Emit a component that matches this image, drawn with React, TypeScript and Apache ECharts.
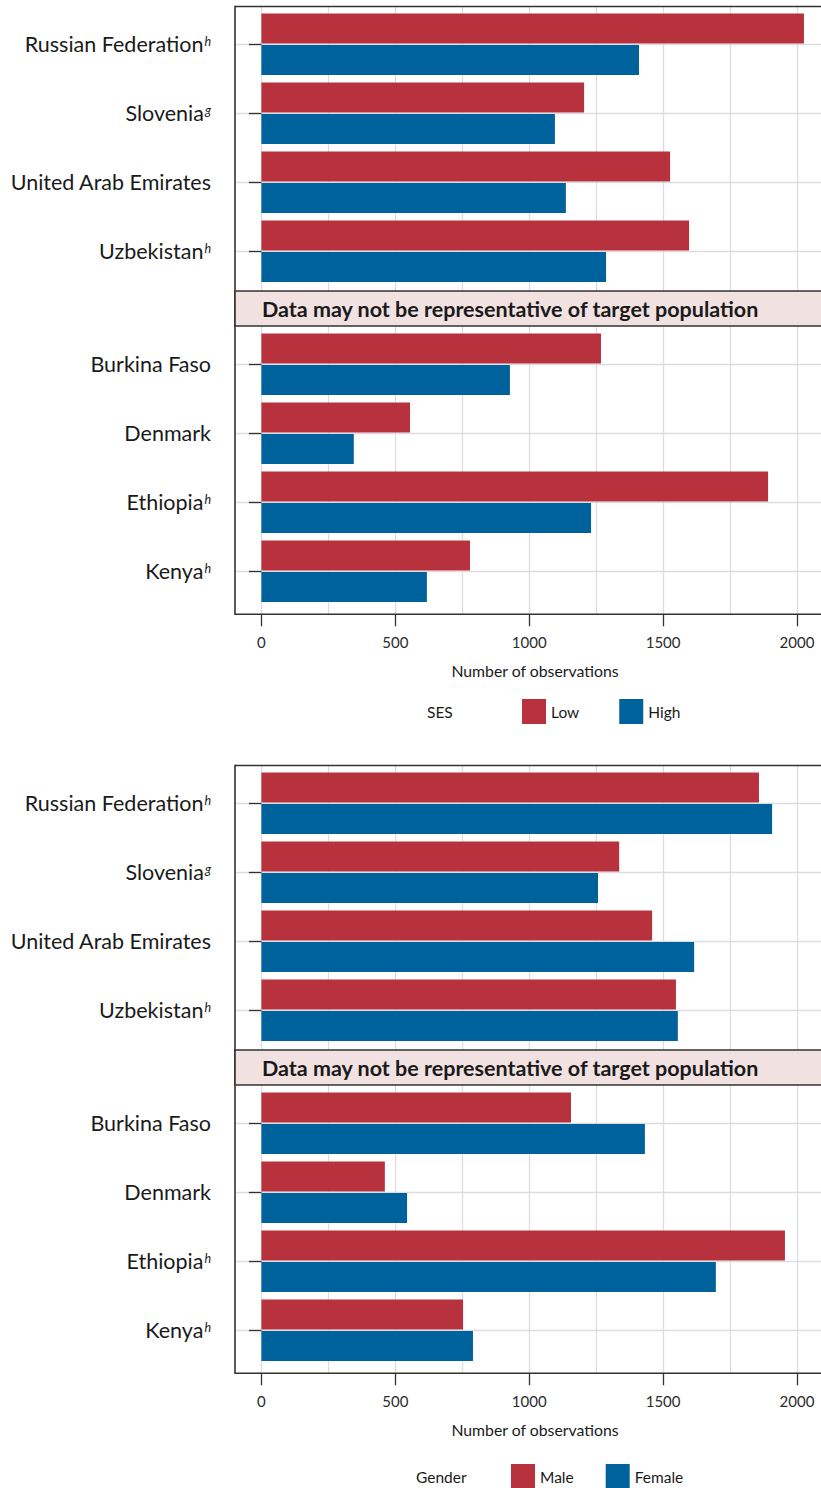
import React, { useEffect, useRef } from 'react';
import * as echarts from 'echarts';

// ---------- data ----------
const upperCountries = ['Russian Federation', 'Slovenia', 'United Arab Emirates', 'Uzbekistan'];
const upperNotes = ['h', 'g', '', 'h'];
const lowerCountries = ['Burkina Faso', 'Denmark', 'Ethiopia', 'Kenya'];
const lowerNotes = ['', '', 'h', 'h'];

const sesLowUpper = [2026, 1205, 1526, 1597];
const sesHighUpper = [1410, 1096, 1137, 1287];
const sesLowLower = [1268, 555, 1892, 779];
const sesHighLower = [928, 345, 1231, 618];

const maleUpper = [1858, 1336, 1459, 1548];
const femaleUpper = [1907, 1257, 1616, 1555];
const maleLower = [1156, 461, 1955, 753];
const femaleLower = [1432, 544, 1697, 790];

const sesNames = ['Low', 'High'];
const genderNames = ['Male', 'Female'];
const stripText = 'Data may not be representative of target population';
const xTitle = 'Number of observations';

// ---------- layout / style ----------
const W = 880;
const H = 1488;
const PLOT_LEFT = 235;
const ZERO_X = 261.4;
const PX_PER_UNIT = 0.2678;
const X_MAX = (W - ZERO_X) / PX_PER_UNIT;
const X_MIN_B = -(ZERO_X - PLOT_LEFT) / PX_PER_UNIT;
const BAND = 69;
const RED = '#B8323D';
const BLUE = '#00629C';
const GRID = '#DCDCE2';
const FRAME = '#333333';
const FONT = 'Lato';

function labelFormatter(countries: string[], notes: string[]) {
  return (value: string) => {
    const i = countries.indexOf(value);
    const note = i >= 0 ? notes[i] : '';
    return note ? `{n|${value}}{s|${note}}` : `{n|${value}}`;
  };
}

function buildOption() {
  const panels = [
    {
      offset: 0,
      names: sesNames,
      upper: [sesLowUpper, sesHighUpper],
      lower: [sesLowLower, sesHighLower],
      legendTitle: 'SES',
      legendTitleX: 427,
      legendLeft: 522,
      legendTop: 699,
      legendGap: 40,
    },
    {
      offset: 759,
      names: genderNames,
      upper: [maleUpper, femaleUpper],
      lower: [maleLower, femaleLower],
      legendTitle: 'Gender',
      legendTitleX: 416,
      legendLeft: 511,
      legendTop: 1464,
      legendGap: 32,
    },
  ];

  const grid: any[] = [];
  const xAxis: any[] = [];
  const yAxis: any[] = [];
  const series: any[] = [];
  const legend: any[] = [];
  const graphic: any[] = [];

  panels.forEach((p) => {
    const o = p.offset;
    const subs = [
      { vTop: 6.5 + o, vH: 284.5, bTop: 44.3 + o, countries: upperCountries, notes: upperNotes, data: p.upper, lowerSub: false },
      { vTop: 326 + o, vH: 288.3, bTop: 364.3 + o, countries: lowerCountries, notes: lowerNotes, data: p.lower, lowerSub: true },
    ];
    subs.forEach((s) => {
      // grid V: vertical gridlines and x axis
      const vIdx = grid.length;
      grid.push({ left: ZERO_X, right: 0, top: s.vTop, height: s.vH, show: false, outerBoundsMode: 'none' });
      xAxis.push({
        type: 'value',
        gridIndex: vIdx,
        min: 0,
        max: X_MAX,
        interval: 500,
        axisLine: { show: false },
        axisTick: { show: s.lowerSub, length: 12, lineStyle: { color: FRAME, width: 1.3 } },
        axisLabel: {
          show: s.lowerSub,
          fontSize: 15,
          fontFamily: FONT,
          color: '#2b2b2b',
          margin: 20,
          formatter: (v: number) => (v % 500 === 0 && v <= 2000 ? String(v) : ''),
        },
        splitLine: { show: true, lineStyle: { color: GRID, width: 1.3 } },
        minorTick: { show: false, splitNumber: 2 },
        minorSplitLine: { show: true, lineStyle: { color: GRID, width: 1.3 } },
      });
      yAxis.push({ type: 'value', gridIndex: vIdx, show: false, min: 0, max: 1 });

      // grid B: bars, category axis, horizontal gridlines
      const bIdx = grid.length;
      grid.push({ left: PLOT_LEFT, right: 0, top: s.bTop, height: BAND * 3, show: false, outerBoundsMode: 'none' });
      xAxis.push({ type: 'value', gridIndex: bIdx, min: X_MIN_B, max: X_MAX, show: false });
      yAxis.push({
        type: 'category',
        gridIndex: bIdx,
        data: s.countries,
        inverse: true,
        boundaryGap: false,
        axisLine: { show: false },
        axisTick: { show: true, length: 12.5, lineStyle: { color: FRAME, width: 1.3 } },
        axisLabel: {
          interval: 0,
          margin: 24,
          formatter: labelFormatter(s.countries, s.notes),
          rich: {
            n: { fontSize: 21.5, fontFamily: FONT, color: '#1a1a1a', lineHeight: 24 },
            s: { fontSize: 12.5, fontFamily: FONT, fontStyle: 'italic', color: '#1a1a1a', lineHeight: 12, verticalAlign: 'top', padding: [3, 0, 0, 1] },
          },
        },
        splitLine: { show: true, lineStyle: { color: GRID, width: 1.3 } },
      });
      [0, 1].forEach((k) => {
        series.push({
          type: 'bar',
          name: p.names[k],
          xAxisIndex: bIdx,
          yAxisIndex: bIdx,
          data: s.data[k],
          barWidth: 30,
          barGap: '5%',
          clip: false,
          itemStyle: { color: k === 0 ? RED : BLUE },
          silent: true,
        });
      });
    });

    // frame
    const frameStyle = { stroke: FRAME, lineWidth: 1.6 };
    graphic.push(
      { type: 'line', z: 50, shape: { x1: PLOT_LEFT, y1: 5.7 + o, x2: PLOT_LEFT, y2: 615 + o }, style: frameStyle },
      { type: 'line', z: 50, shape: { x1: PLOT_LEFT, y1: 6.5 + o, x2: W, y2: 6.5 + o }, style: frameStyle },
      { type: 'line', z: 50, shape: { x1: PLOT_LEFT, y1: 614.3 + o, x2: W, y2: 614.3 + o }, style: frameStyle },
      { type: 'rect', z: 50, shape: { x: PLOT_LEFT, y: 291 + o, width: W, height: 35 }, style: { fill: '#F1E1E1', stroke: FRAME, lineWidth: 1.6 } },
      {
        type: 'text', z: 51, x: 262, y: 308.5 + o,
        style: { text: stripText, font: `bold 21.5px ${FONT}`, fill: '#1a1a1a', verticalAlign: 'middle', align: 'left' },
      },
      {
        type: 'text', z: 51, x: 535, y: 670 + o,
        style: { text: xTitle, font: `15.8px ${FONT}`, fill: '#1a1a1a', verticalAlign: 'middle', align: 'center' },
      },
      {
        type: 'text', z: 51, x: p.legendTitleX, y: p.legendTop + 12.5,
        style: { text: p.legendTitle, font: `15.5px ${FONT}`, fill: '#1a1a1a', verticalAlign: 'middle', align: 'left' },
      }
    );

    legend.push({
      data: p.names,
      left: p.legendLeft,
      top: p.legendTop,
      orient: 'horizontal',
      itemWidth: 24,
      itemHeight: 25,
      itemGap: p.legendGap,
      icon: 'rect',
      selectedMode: false,
      padding: 0,
      textStyle: { fontSize: 15.5, fontFamily: FONT, color: '#1a1a1a' },
    });
  });

  return {
    animation: false,
    backgroundColor: '#ffffff',
    textStyle: { fontFamily: FONT },
    grid,
    xAxis,
    yAxis,
    series,
    legend,
    graphic: { elements: graphic },
  };
}

export default function App() {
  const ref = useRef<HTMLDivElement>(null);
  useEffect(() => {
    if (!ref.current) return;
    const chart = echarts.init(ref.current, null, { renderer: 'svg' });
    chart.setOption(buildOption() as any);
    return () => chart.dispose();
  }, []);
  return (
    <div style={{ position: 'absolute', left: 0, top: 0, width: 821, height: H, overflow: 'hidden', background: '#fff' }}>
      <div ref={ref} style={{ width: W, height: H }} />
    </div>
  );
}
